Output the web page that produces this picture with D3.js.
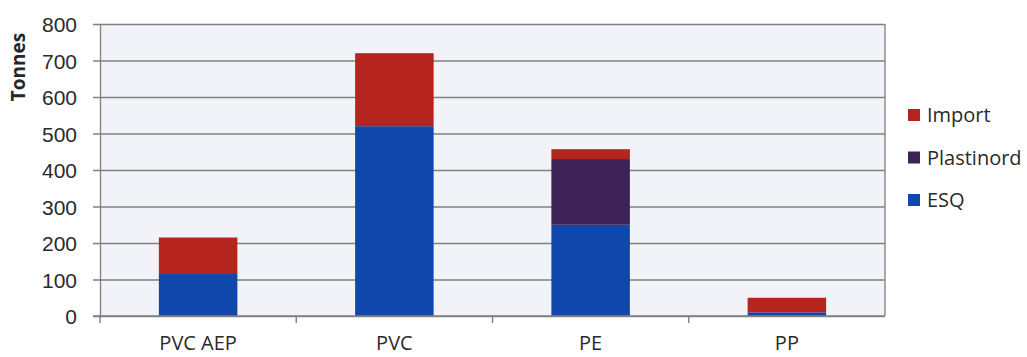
<!DOCTYPE html>
<html>
<head>
<meta charset="utf-8">
<script src="https://cdn.jsdelivr.net/npm/d3@7"></script>
<style>
  html, body { margin: 0; padding: 0; background: #ffffff; }
  svg { display: block; font-family: "Open Sans", "Liberation Sans", sans-serif; }
</style>
</head>
<body>
<svg id="chart" width="1027" height="357"></svg>
<script>
// Tonnage by polymer type, stacked by supply source
const categories = ["PVC AEP", "PVC", "PE", "PP"];
const esq        = [115, 520, 250, 10];
const plastinord = [0, 0, 180, 0];
const imports    = [100, 200, 27, 40];
const yTicks     = [0, 100, 200, 300, 400, 500, 600, 700, 800];

const seriesKeys   = ["ESQ", "Plastinord", "Import"];
const seriesColors = { ESQ: "#1047ad", Plastinord: "#3e2456", Import: "#b5241f" };
const legendOrder  = ["Import", "Plastinord", "ESQ"];

const rows = categories.map((c, i) => ({
  category: c, ESQ: esq[i], Plastinord: plastinord[i], Import: imports[i]
}));

const svg = d3.select("#chart");
const plot = { left: 100, right: 885, top: 24, bottom: 316 };

const x = d3.scaleBand()
  .domain(categories)
  .range([plot.left, plot.right])
  .paddingInner(0.6)
  .paddingOuter(0.3);

const y = d3.scaleLinear()
  .domain([0, 800])
  .range([plot.bottom, plot.top]);

// plot area background
svg.append("rect")
  .attr("x", plot.left).attr("y", plot.top)
  .attr("width", plot.right - plot.left)
  .attr("height", plot.bottom - plot.top)
  .attr("fill", "#f2f3f8");

// horizontal gridlines with left tick marks
const yAxis = d3.axisLeft(y)
  .tickValues(yTicks)
  .tickSize(-(plot.right - plot.left))
  .tickSizeOuter(0)
  .tickPadding(23)
  .tickFormat(d3.format("d"));

const gy = svg.append("g")
  .attr("transform", `translate(${plot.left},0)`)
  .call(yAxis);
gy.select(".domain").attr("stroke", "#878787").attr("stroke-width", 1.4);
gy.selectAll(".tick line")
  .attr("x1", -7)
  .attr("stroke", "#808080")
  .attr("stroke-width", 1.4);
gy.selectAll(".tick text")
  .attr("fill", "#2a2a2a")
  .attr("font-size", 21)
  .attr("dy", "0.36em");

// right border of plot area
svg.append("line")
  .attr("x1", plot.right).attr("x2", plot.right)
  .attr("y1", plot.top).attr("y2", plot.bottom)
  .attr("stroke", "#878787").attr("stroke-width", 1.4);

// stacked bars
const stack = d3.stack().keys(seriesKeys);
const layers = stack(rows);

svg.append("g")
  .selectAll("g")
  .data(layers)
  .join("g")
  .attr("fill", d => seriesColors[d.key])
  .selectAll("rect")
  .data(d => d)
  .join("rect")
  .attr("x", d => x(d.data.category))
  .attr("width", x.bandwidth())
  .attr("y", d => y(d[1]))
  .attr("height", d => y(d[0]) - y(d[1]));

// category axis: boundary ticks between categories
const boundaries = d3.range(categories.length)
  .map(i => plot.left + i * (plot.right - plot.left) / categories.length);

svg.append("line")
  .attr("x1", plot.left - 7).attr("x2", plot.right)
  .attr("y1", y(0)).attr("y2", y(0))
  .attr("stroke", "#808080").attr("stroke-width", 1.4);

svg.append("g")
  .selectAll("line")
  .data(boundaries)
  .join("line")
  .attr("x1", d => d).attr("x2", d => d)
  .attr("y1", y(0)).attr("y2", y(0) + 7)
  .attr("stroke", "#808080").attr("stroke-width", 1.4);

svg.append("g")
  .selectAll("text")
  .data(categories)
  .join("text")
  .attr("x", d => x(d) + x.bandwidth() / 2)
  .attr("y", 350)
  .attr("text-anchor", "middle")
  .attr("font-size", 20)
  .attr("fill", "#2a2a2a")
  .text(d => d);

// y axis title
svg.append("text")
  .attr("transform", "translate(25,67) rotate(-90)")
  .attr("text-anchor", "middle")
  .attr("font-size", 19)
  .attr("font-weight", "bold")
  .attr("fill", "#262626")
  .text("Tonnes");

// legend
const legend = svg.append("g")
  .selectAll("g")
  .data(legendOrder)
  .join("g")
  .attr("transform", (d, i) => `translate(908,${115 + i * 42.5})`);

legend.append("rect")
  .attr("x", 0).attr("y", -6)
  .attr("width", 12).attr("height", 12)
  .attr("fill", d => seriesColors[d]);

legend.append("text")
  .attr("x", 19)
  .attr("y", 0)
  .attr("dy", "0.36em")
  .attr("font-size", 20)
  .attr("fill", "#2a2a2a")
  .text(d => d);
</script>
</body>
</html>
